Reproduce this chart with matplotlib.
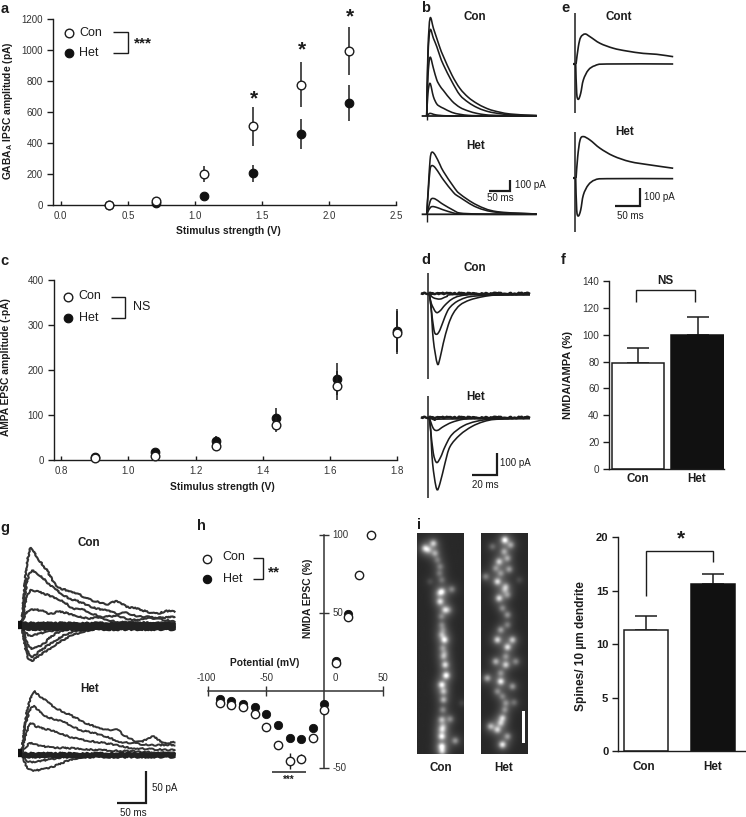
import numpy as np
import matplotlib
matplotlib.use("Agg")
import matplotlib.pyplot as plt
from matplotlib.path import Path
from matplotlib.patches import PathPatch

plt.rcParams['font.family'] = ['Liberation Sans', 'DejaVu Sans']
plt.rcParams['mathtext.fontset'] = 'custom'
plt.rcParams['mathtext.bf'] = 'Liberation Sans:bold'
plt.rcParams['mathtext.rm'] = 'Liberation Sans'

W, H = 746, 817
INK = '#1c1c1c'
TICK = '#333333'

# ---------- a: GABA-A IPSC ----------
a_x = [0.36, 0.71, 1.07, 1.43, 1.79, 2.15]
a_con = [0, 30, 200, 510, 775, 995]
a_con_err = [0, 15, 52, 125, 145, 155]
a_het = [2, 15, 60, 205, 460, 660]
a_het_err = [3, 8, 15, 55, 95, 115]
a_xticks = [0.0, 0.5, 1.0, 1.5, 2.0, 2.5]
a_yticks = [0, 200, 400, 600, 800, 1000, 1200]

# ---------- c: AMPA EPSC ----------
c_x = [0.9, 1.08, 1.26, 1.44, 1.62, 1.8]
c_con = [4, 10, 32, 79, 165, 283]
c_con_err = [1, 5, 8, 17, 32, 48]
c_het = [7, 19, 43, 94, 180, 287]
c_het_err = [3, 5, 10, 22, 35, 48]
c_xticks = [0.8, 1.0, 1.2, 1.4, 1.6, 1.8]
c_yticks = [0, 100, 200, 300, 400]

# ---------- f: NMDA/AMPA ----------
f_groups = ['Con', 'Het']
f_vals = [79, 100]
f_errs = [11.5, 13.5]
f_yticks = [0, 20, 40, 60, 80, 100, 120, 140]

# ---------- h: NMDA I-V ----------
h_x_con = [-90, -80, -70, -60, -50, -40, -30, -20, -10, 0, 10, 20, 30, 40]
h_con = [-7.7, -9, -10.9, -15.4, -23.5, -35.3, -45.2, -43.9, -30.8, -12.2, 18, 47.4, 74, 100]
h_con_err = [1, 1, 1, 1, 1, 2, 5, 3, 1, 1, 1, 1, 1, 1]
h_x_het = [-90, -80, -70, -60, -50, -40, -30, -20, -10, 0, 10, 20]
h_het = [-5.7, -6.8, -8.5, -10.5, -15.4, -22.2, -30.2, -31.4, -24.2, -8.5, 19.3, 49]

# ---------- i: spine density ----------
i_groups = ['Con', 'Het']
i_vals = [11.3, 15.6]
i_errs = [1.3, 1.0]
i_yticks = [0, 5, 10, 15, 20]

# ---------- b: IPSC traces (ms, pA) ----------
b_con_t = [0, 3, 8, 16, 24, 32, 40, 60, 79, 99, 119, 139, 159, 198, 262]
b_con_1 = [0, 619, 916, 822, 728, 634, 556, 384, 259, 175, 119, 78, 50, 19, 3]
b_con_2 = [0, 556, 806, 728, 650, 556, 478, 322, 197, 128, 81, 50, 31, 12, 3]
b_con_3 = [0, 369, 550, 447, 338, 279, 238, 141, 81, 47, 25, 12, 6, 3, 3]
b_con_4 = [0, 213, 306, 181, 113, 88, 72, 34, 16, 6, 3, 3, 3, 3, 3]
b_con_5 = [0, 12, 25, 16, 9, 6, 3, 0, 0, 0, 0, 0, 0, 0, 0]
b_het_t = [0, 4, 8, 12, 20, 32, 40, 64, 79, 119, 167, 262]
b_het_1 = [0, 259, 509, 581, 556, 462, 400, 259, 191, 88, 25, 3]
b_het_2 = [0, 228, 416, 456, 438, 369, 322, 203, 159, 66, 19, 3]
b_het_3 = [0, 56, 119, 147, 144, 112, 91, 37, 12, 3, 0, 0]
b_het_4 = [0, 34, 59, 72, 69, 53, 41, 12, 3, 0, 0, 0]
base_t = [-12, 262]
base_v = [0, 0]

# ---------- d: EPSC traces (ms, pA) ----------
d_con_t1 = [0, 1.4, 3.3, 6.6, 8.8, 11.5, 15.6, 19.7, 25.2, 33.4, 44.4, 55.3, 82.7]
d_con_1 = [0, -58, -207, -314, -289, -222, -140, -88, -51, -28, -13, -6, -4]
d_con_t2 = [0, 1.4, 3.8, 6, 8.8, 12.9, 17, 25.2, 38.9, 82.7]
d_con_2 = [0, -58, -162, -182, -162, -103, -61, -28, -10, -3]
d_con_t3 = [0, 1.6, 5.5, 8.8, 12.9, 18.4, 25.2, 38.9, 82.7]
d_con_3 = [0, -43, -83, -77, -51, -25, -10, -3, -4]
d_con_t4 = [0, 3.3, 8.8, 14.2, 22.5, 82.7]
d_con_4 = [0, -18, -24, -13, -3, -4]
d_het_t1 = [0, 1.1, 2.7, 6, 8.8, 12.9, 17, 25.2, 34.8, 44.4, 55.3, 82.7]
d_het_1 = [0, -55, -204, -319, -294, -204, -130, -77, -40, -18, -7, -3]
d_het_t2 = [0, 1.1, 3.3, 6, 9.3, 12.9, 18.4, 27.9, 38.9, 55.3, 82.7]
d_het_2 = [0, -55, -159, -201, -177, -130, -77, -37, -16, -4, -3]
d_het_t3 = [0, 3.3, 6.6, 11.5, 18.4, 27.9, 38.9, 82.7]
d_het_3 = [0, -48, -57, -40, -21, -7, -3, -3]
d_het_t4 = [0, 4.7, 11.5, 82.7]
d_het_4 = [0, -10, -6, -3]
d_base_t = [-7, 82.7]
d_base_v = [1, 1]

# ---------- e: +40 / -70 traces (ms, pA) ----------
e_con_up_t = [0.7, 5.3, 10, 18.7, 28.7, 48.7, 75.4, 102, 135, 162, 195]
e_con_up = [0, 95, 146, 164, 149, 113, 86, 71, 58, 53, 40]
e_dn_t = [0, 2, 5.3, 10, 15.3, 25.3, 38.7, 62, 195]
e_con_dn = [0, -160, -193, -160, -87, -33, -9, 0, 0]
e_het_up_t = [0.7, 4, 8.7, 15.3, 28.7, 48.7, 75.4, 108.7, 148.7, 195]
e_het_up = [0, 118, 209, 228, 209, 164, 122, 91, 73, 55]
e_het_dn = [0, -173, -206, -173, -91, -36, -9, -2, -2]

# ---------- g: NMDA traces (ms, pA) ----------
g_con_t1 = [0, 7.5, 14.4, 20, 32, 43, 55, 66, 78, 95, 112, 129, 147, 164, 181, 198, 216, 233, 250, 265]
g_con_u1 = [0, 87, 119, 116, 100, 87, 68, 58, 55, 50, 42, 37, 33, 37, 29, 26, 21, 18, 22, 21]
g_con_t2 = [0, 8.6, 17, 26, 37, 49, 60, 78, 95, 112, 129, 147, 164, 181, 198, 216, 233, 265]
g_con_u2 = [0, 66, 85, 82, 74, 63, 55, 44, 38, 32, 26, 24, 18, 19, 14, 13, 11, 13]
g_con_t3 = [0, 5.8, 14.4, 26, 37, 55, 72, 89, 106, 124, 141, 164, 193, 221, 265]
g_con_u3 = [0, 34, 54, 53, 50, 44, 37, 26, 24, 17, 13, 14, 8, 11, 5]
g_con_t4 = [0, 5.8, 14.4, 32, 49, 66, 89, 112, 135, 164, 193, 265]
g_con_u4 = [0, 16, 24, 23, 18, 21, 16, 11, 11, 5, 4, 3]
g_con_t5 = [0, 8.6, 17, 32, 49, 66, 89, 112, 147, 204, 265]
g_con_d1 = [0, -45, -56, -47, -37, -26, -16, -9, -4, -3, -3]
g_con_t6 = [0, 8.6, 17, 34.5, 55, 78, 106, 147, 265]
g_con_d2 = [0, -37, -50, -39, -26, -14, -8, -3, -2]
g_con_t7 = [0, 8.6, 17, 37, 60, 106, 265]
g_con_d3 = [0, -26, -37, -30, -13, -4, -3]
g_con_t8 = [0, 11.5, 32, 60, 106, 265]
g_con_d4 = [0, -16, -13, -8, -4, -3]
g_con_band = [3, 1, -1, -3, -5, -7]
g_het_t1 = [0, 7.5, 19, 29, 43, 60, 78, 95, 112, 129, 147, 164, 181, 204, 227, 244, 265]
g_het_u1 = [0, 58, 96, 92, 82, 71, 63, 55, 47, 42, 37, 37, 26, 18, 26, 16, 18]
g_het_t2 = [0, 5.8, 17, 29, 43, 60, 78, 101, 124, 147, 170, 193, 221, 265]
g_het_u2 = [0, 42, 73, 68, 58, 53, 47, 37, 32, 26, 18, 16, 13, 13]
g_het_t3 = [0, 5.8, 15.5, 26, 43, 60, 83, 106, 129, 164, 193, 265]
g_het_u3 = [0, 26, 47, 42, 38, 34, 26, 21, 18, 13, 8, 5]
g_het_t4 = [0, 5.8, 15.5, 32, 55, 89, 135, 193, 265]
g_het_u4 = [0, 8, 16, 12, 9, 8, 5, 3, 0]
g_het_t5 = [0, 8.6, 20, 37, 57, 83, 112, 147, 265]
g_het_d1 = [0, -21, -27, -25, -20, -10.5, -5, -2, -1]
g_het_t6 = [0, 11.5, 32, 60, 95, 265]
g_het_d2 = [0, -13, -12, -8, -4, -2]
g_het_band = [0, -2, -4, -6]

# ---------- i: micrograph bright spots (image x, image y, brightness) ----------
dend_con_x = [75, 100, 105, 120, 125, 125, 155, 120, 135, 125, 133, 125, 130, 135, 138, 125, 130, 125, 150, 125, 125, 165, 90, 185, 85, 112, 118, 124, 128, 128, 130, 128, 128, 126, 126, 133, 118, 145]
dend_con_y = [115, 100, 130, 170, 210, 245, 238, 275, 300, 345, 390, 375, 440, 465, 497, 525, 570, 630, 628, 680, 710, 693, 215, 580, 120, 150, 190, 320, 360, 415, 545, 600, 650, 660, 725, 430, 250, 300]
dend_con_b = [.7, .7, .5, .35, .3, .8, .4, .8, .7, .35, .9, .5, .5, .8, 1.0, .9, .6, .6, .4, .9, .9, .5, .15, .12, .5, .3, .3, .35, .3, .4, .6, .4, .4, .6, .7, .3, .4, .3]
dend_het_x = [312, 330, 275, 295, 320, 285, 325, 255, 290, 315, 355, 295, 320, 320, 300, 290, 335, 320, 285, 315, 345, 260, 300, 335, 290, 315, 340, 305, 270, 290, 320, 305, 300, 310, 305, 315, 312, 300, 312, 320, 300, 305]
dend_het_y = [90, 105, 110, 155, 145, 175, 178, 200, 215, 230, 210, 265, 255, 315, 360, 390, 390, 412, 455, 465, 455, 505, 515, 530, 545, 580, 578, 625, 650, 660, 680, 705, 640, 125, 295, 440, 600, 190, 240, 345, 490, 560]
dend_het_b = [1.0, .5, .3, .7, .5, .4, .5, .4, .8, .5, .15, .8, .4, .45, .5, .8, .7, .8, .6, .7, .4, .6, .9, .5, .4, .4, .3, .7, .6, .7, .5, .9, .6, .5, .4, .4, .4, .4, .4, .35, .4, .35]

# ---------- helpers ----------
fig = plt.figure(figsize=(W / 100, H / 100), dpi=100, facecolor='white')


def ax_px(l, t, r, b, **kw):
    return fig.add_axes([l / W, 1 - b / H, (r - l) / W, (b - t) / H], **kw)


def style_xy(ax, xt, yt, xfmt):
    for s in ('top', 'right'):
        ax.spines[s].set_visible(False)
    for s in ('left', 'bottom'):
        ax.spines[s].set_linewidth(1.0)
        ax.spines[s].set_color(INK)
    ax.set_xticks(xt)
    ax.set_xticklabels([xfmt % v for v in xt])
    ax.set_yticks(yt)
    ax.tick_params(axis='x', direction='in', length=3.2, width=1.0, pad=4, labelsize=7, labelcolor=TICK, color=INK)
    ax.tick_params(axis='y', direction='out', length=4, width=1.0, pad=3.5, labelsize=7, labelcolor=TICK, color=INK)
    ax.patch.set_alpha(0)


def scatter_panel(ax, x, con, con_e, het, het_e):
    ax.errorbar(x, het, yerr=het_e, fmt='o', ms=6.2, mfc='#111111', mec='#111111', mew=0.8,
                ecolor=INK, elinewidth=1.1, clip_on=False, zorder=3)
    ax.errorbar(x, con, yerr=con_e, fmt='o', ms=6.2, mfc='white', mec=INK, mew=1.0,
                ecolor=INK, elinewidth=1.1, clip_on=False, zorder=4)
    for art in ax.get_children():
        art.set_clip_on(False)


def trace_ax(x0, y0, sx, sy, l, t, r, b):
    ax = ax_px(l, t, r, b)
    ax.set_xlim((l - x0) / sx, (r - x0) / sx)
    ax.set_ylim((y0 - b) / sy, (y0 - t) / sy)
    ax.axis('off')
    return ax


def tr(ax, t, v, lw=1.1, c=INK, noisy=False):
    # smooth curve through every read sample (Bezier segments in data space)
    p = np.column_stack([t, v]).astype(float)
    verts = [p[0]]
    codes = [Path.MOVETO]
    n = len(p)
    for i in range(n - 1):
        a = p[max(i - 1, 0)]
        d = p[min(i + 2, n - 1)]
        verts += [p[i] + (p[i + 1] - a) / 6, p[i + 1] - (d - p[i]) / 6, p[i + 1]]
        codes += [Path.CURVE4] * 3
    patch = PathPatch(Path(verts, codes), fill=False, edgecolor=c, lw=lw, clip_on=False,
                      capstyle='butt', joinstyle='round')
    if noisy:
        patch.set_sketch_params(0.7, 5, 5)
    ax.add_patch(patch)
    return patch


# ---------- panel a ----------
axa = ax_px(53.3, 19, 396.3, 205.3)
axa.set_xlim((53.3 - 60.7) / 134.2, 2.5)
axa.set_ylim(0, 1200)
style_xy(axa, a_xticks, a_yticks, '%.1f')
scatter_panel(axa, a_x, a_con, a_con_err, a_het, a_het_err)

# ---------- panel c ----------
axc = ax_px(54, 279.7, 397.3, 460.3)
axc.set_xlim(0.8 + (54 - 61) / 336.3, 1.8)
axc.set_ylim(0, 400)
style_xy(axc, c_xticks, c_yticks, '%.1f')
scatter_panel(axc, c_x, c_con, c_con_err, c_het, c_het_err)


# ---------- bar panels ----------
def bar_panel(ax, vals, errs, yt, width, cap, bold=False):
    ax.bar([0], [vals[0]], width=width, color='white', edgecolor=INK, linewidth=1.1, zorder=2)
    ax.bar([1], [vals[1]], width=width, color='#111111', edgecolor='#111111', linewidth=1.1, zorder=2)
    ax.errorbar([0, 1], vals, yerr=[[0, 0], errs], fmt='none', ecolor=INK, elinewidth=1.1,
                capsize=cap, capthick=1.1, zorder=1)
    for s in ('top', 'right'):
        ax.spines[s].set_visible(False)
    for s in ('left', 'bottom'):
        ax.spines[s].set_linewidth(1.0)
        ax.spines[s].set_color(INK)
    ax.set_xticks([])
    ax.set_yticks(yt)
    ax.tick_params(axis='y', direction='out', length=4, width=1.0, pad=3,
                   labelsize=8 if bold else 7.2, labelcolor=INK if bold else TICK, color=INK)
    if bold:
        for lb in ax.get_yticklabels():
            lb.set_fontweight('bold')
    ax.patch.set_alpha(0)


axf = ax_px(609, 281.3, 724.3, 468.7)
axf.set_xlim(-0.487, 1.45)
axf.set_ylim(0, 140)
bar_panel(axf, f_vals, f_errs, f_yticks, 0.884, 7.8)

axi = ax_px(618, 537.3, 745.7, 751.3)
axi.set_xlim((618 - 646) / 67, 1 + (745.7 - 713) / 67)
axi.set_ylim(0, 20)
bar_panel(axi, i_vals, i_errs, i_yticks, 0.67, 7.8, bold=True)

# ---------- panel h ----------
axh = ax_px(208, 535, 382.7, 768.3)
axh.set_xlim(-100, 50)
axh.set_ylim(-50, 100)
for s in ('top', 'right'):
    axh.spines[s].set_visible(False)
axh.spines['left'].set_position(('data', 0))
axh.spines['bottom'].set_position(('data', 0))
axh.spines['left'].set_color('#333333')
axh.spines['bottom'].set_color('#333333')
axh.spines['left'].set_linewidth(1.1)
axh.spines['bottom'].set_linewidth(1.1)
axh.set_xticks([-100, -50, 50])
axh.set_yticks([-50, 50, 100])
axh.tick_params(axis='both', direction='inout', length=7, width=1.0, color='#333333',
                labelbottom=False, labelleft=False)
axh.patch.set_alpha(0)
axh.plot(h_x_het, h_het, 'o', ms=6, mfc='#111111', mec='#111111', mew=0.6, clip_on=False, zorder=3)
axh.errorbar(h_x_con, h_con, yerr=h_con_err, fmt='o', ms=6, mfc='white', mec=INK, mew=1.0,
             ecolor=INK, elinewidth=1.0, zorder=4)
for art in axh.get_children():
    art.set_clip_on(False)

# ---------- traces b ----------
ax = trace_ax(426.7, 116, 0.42, 0.1067, 415, 10, 540, 122)
for v in (b_con_1, b_con_2, b_con_3, b_con_4, b_con_5):
    tr(ax, b_con_t, v, lw=1.15)
tr(ax, base_t, base_v, lw=1.3)
ax = trace_ax(426.7, 214.3, 0.42, 0.1067, 415, 145, 540, 222)
for v in (b_het_1, b_het_2, b_het_3, b_het_4):
    tr(ax, b_het_t, v, lw=1.15)
tr(ax, base_t, base_v, lw=1.3)

# ---------- traces d ----------
ax = trace_ax(429.3, 293.7, 1.217, 0.223, 420, 272, 535, 380)
for t, v in ((d_con_t1, d_con_1), (d_con_t2, d_con_2), (d_con_t3, d_con_3), (d_con_t4, d_con_4)):
    tr(ax, t, v, lw=1.15)
tr(ax, d_base_t, d_base_v, lw=1.8, noisy=True)
ax = trace_ax(429.3, 417.7, 1.217, 0.223, 420, 396, 535, 500)
for t, v in ((d_het_t1, d_het_1), (d_het_t2, d_het_2), (d_het_t3, d_het_3), (d_het_t4, d_het_4)):
    tr(ax, t, v, lw=1.15)
tr(ax, d_base_t, d_base_v, lw=1.8, noisy=True)

# ---------- traces e ----------
ax = trace_ax(575.7, 64, 0.5, 0.183, 570, 10, 680, 115)
tr(ax, e_con_up_t, e_con_up, lw=1.2)
tr(ax, e_dn_t, e_con_dn, lw=1.2)
ax = trace_ax(575.7, 178.3, 0.5, 0.183, 570, 130, 680, 235)
tr(ax, e_het_up_t, e_het_up, lw=1.2)
tr(ax, e_dn_t, e_het_dn, lw=1.2)

# ---------- traces g ----------
GR = '#333333'
ax = trace_ax(21.7, 625, 0.58, 0.633, 14, 540, 176, 665)
for t, v in ((g_con_t1, g_con_u1), (g_con_t2, g_con_u2), (g_con_t3, g_con_u3), (g_con_t4, g_con_u4),
             (g_con_t5, g_con_d1), (g_con_t6, g_con_d2), (g_con_t7, g_con_d3), (g_con_t8, g_con_d4)):
    tr(ax, t, v, lw=1.5, c=GR, noisy=True)
for lvl in g_con_band:
    tr(ax, [0, 132, 265], [lvl, lvl, lvl], lw=1.7, c='#222222', noisy=True)
ax.plot([-6, 0], [0, 0], color='#111111', lw=6, solid_capstyle='butt', clip_on=False)

ax = trace_ax(21.7, 753.3, 0.58, 0.633, 14, 688, 176, 775)
for t, v in ((g_het_t1, g_het_u1), (g_het_t2, g_het_u2), (g_het_t3, g_het_u3), (g_het_t4, g_het_u4),
             (g_het_t5, g_het_d1), (g_het_t6, g_het_d2)):
    tr(ax, t, v, lw=1.4, c=GR, noisy=True)
for lvl in g_het_band:
    tr(ax, [0, 132, 265], [lvl, lvl, lvl], lw=1.5, c='#222222', noisy=True)
ax.plot([-6, 0], [0, 0], color='#111111', lw=6, solid_capstyle='butt', clip_on=False)


# ---------- micrographs ----------
def micro(l, r, xs, ys, bs, x0, x1):
    ax = ax_px(l, 533.3, r, 754.3)
    gx, gy = np.meshgrid(np.arange(x0, x1, 2.0), np.arange(70, 733, 2.0))
    img = np.full(gx.shape, 0.16)
    for x, y, b in zip(xs, ys, bs):
        d2 = (gx - x) ** 2 + (gy - y) ** 2
        img += b * 0.6 * np.exp(-d2 / (2 * 7.0 ** 2)) + b * 0.22 * np.exp(-d2 / (2 * 16.0 ** 2))
    ax.imshow(np.clip(img, 0, 1), cmap='gray', vmin=0, vmax=1, aspect='auto',
              extent=(x0, x1, 733, 70), interpolation='bilinear')
    ax.axis('off')


micro(417.3, 464, dend_con_x, dend_con_y, dend_con_b, 52, 192)
micro(480.7, 527, dend_het_x, dend_het_y, dend_het_b, 242, 381)

# ---------- overlay: annotation layer in pixel coordinates ----------
ov = fig.add_axes([0, 0, 1, 1], zorder=20)
ov.set_xlim(0, W)
ov.set_ylim(H, 0)
ov.axis('off')
ov.patch.set_alpha(0)


def T(x, y, s, size=7, weight='normal', ha='center', va='center', c=INK, rot=0):
    ov.text(x, y, s, fontsize=size, fontweight=weight, ha=ha, va=va, color=c, rotation=rot)


def L(xs, ys, lw=1.0, c=INK):
    ov.plot(xs, ys, color=c, lw=lw, solid_capstyle='butt', solid_joinstyle='miter')


# panel letters
for x, y, s in ((1, 9, 'a'), (421, 8, 'b'), (561, 8, 'e'), (0, 261, 'c'), (421, 260, 'd'),
                (561, 260, 'f'), (0, 528, 'g'), (197, 526, 'h'), (417, 525, 'i')):
    T(x, y, s, size=10.5, weight='bold', ha='left')

# axis labels
T(8, 111, 'GABA$_{\\mathbf{A}}$ IPSC amplitude (pA)', size=7.4, weight='bold', rot=90)
T(228.7, 231, 'Stimulus strength (V)', size=7.4, weight='bold')
T(6, 367, 'AMPA EPSC amplitude (-pA)', size=7.4, weight='bold', rot=90)
T(222.7, 487, 'Stimulus strength (V)', size=7.4, weight='bold')
T(568, 375, 'NMDA/AMPA (%)', size=8, weight='bold', rot=90)
T(581, 646, 'Spines/ 10 µm dendrite', size=8.6, weight='bold', rot=90)
T(638, 478.7, 'Con', size=8.4, weight='bold')
T(697, 478.7, 'Het', size=8.4, weight='bold')
T(643.5, 767.3, 'Con', size=8.4, weight='bold')
T(713, 767.3, 'Het', size=8.4, weight='bold')

# panel a legend
ov.plot([69], [32.7], 'o', ms=6.2, mfc='white', mec=INK, mew=1)
ov.plot([69], [52.7], 'o', ms=6.2, mfc='#111111', mec='#111111', mew=0.8)
T(79.5, 32.5, 'Con', size=9, ha='left')
T(79.5, 52.7, 'Het', size=9, ha='left')
L([112.7, 128, 128, 112.7], [32, 32, 53.3, 53.3])
T(143, 43, '***', size=11, weight='bold')
T(253.7, 99, '*', size=15, weight='bold')
T(302, 50, '*', size=15, weight='bold')
T(350.3, 17, '*', size=15, weight='bold')

# panel c legend
ov.plot([67.7], [297.3], 'o', ms=6.2, mfc='white', mec=INK, mew=1)
ov.plot([67.7], [317.7], 'o', ms=6.2, mfc='#111111', mec='#111111', mew=0.8)
T(78.7, 296, 'Con', size=9, ha='left')
T(79.3, 318, 'Het', size=9, ha='left')
L([110.7, 125.3, 125.3, 110.7], [296.7, 296.7, 318.3, 318.3])
T(132.7, 307.3, 'NS', size=9, ha='left')

# panel f bracket
L([636, 636, 694.7, 694.7], [302.3, 290, 290, 302.3])
T(665, 280.7, 'NS', size=8.4, weight='bold')

# panel i bracket
L([646, 646, 713, 713], [595.7, 551.3, 551.3, 562.3])
T(681, 539, '*', size=15, weight='bold')

# panel h labels
for x, y, s in ((206.7, 678, '-100'), (266.7, 678, '-50'), (335, 678, '0'), (382.7, 678, '50'),
                (340, 535, '100'), (338, 613, '50'), (340, 768, '-50')):
    T(x, y, s, size=7, c=TICK)
T(265, 662.7, 'Potential (mV)', size=7.4, weight='bold')
T(308, 598, 'NMDA EPSC (%)', size=7.4, weight='bold', rot=90)
ov.plot([207.3], [558.7], 'o', ms=6, mfc='white', mec=INK, mew=1)
ov.plot([207.3], [579], 'o', ms=6, mfc='#111111', mec='#111111', mew=0.8)
T(222.7, 557, 'Con', size=9, ha='left')
T(222.7, 579, 'Het', size=9, ha='left')
L([253.3, 263, 263, 253.3], [558.3, 558.3, 579, 579])
T(274, 572, '**', size=11, weight='bold')
L([272.3, 305.7], [771.7, 771.7], lw=1.2, c='#333333')
T(289, 780, '***', size=7, weight='bold')

# trace titles
for x, y, s in ((475, 17, 'Con'), (475.7, 146, 'Het'), (619, 17, 'Cont'), (625, 132, 'Het'),
                (475, 268, 'Con'), (475.7, 397, 'Het'), (89, 543, 'Con'), (90, 689, 'Het'),
                (441, 768, 'Con'), (504, 768, 'Het')):
    T(x, y, s, size=8.4, weight='bold')

# stimulus artefacts
L([426.7, 426.7], [113, 120], lw=1)
L([426.7, 426.7], [211, 222], lw=1)
L([427.7, 427.7], [272.7, 379.3], lw=1.1)
L([427.7, 427.7], [396, 498.3], lw=1.1)
L([575, 575], [13.3, 113.3], lw=1.1)
L([575, 575], [131.7, 232.3], lw=1.1)
L([572.5, 575], [64, 64], lw=1.6)
L([572.5, 575], [178, 178], lw=1.6)

# scale bars
L([489, 510, 510], [190.7, 190.7, 180], lw=1.6)
T(514.7, 185.3, '100 pA', size=7, ha='left')
T(500, 198.3, '50 ms', size=7)
L([615, 640, 640], [206, 206, 188.3], lw=1.6)
T(644, 197, '100 pA', size=7, ha='left')
T(630, 215.7, '50 ms', size=7)
L([472.3, 496.7, 496.7], [475, 475, 453.3], lw=1.6)
T(500, 463.3, '100 pA', size=7, ha='left')
T(485, 484.7, '20 ms', size=7)
L([117, 146, 146], [802.7, 802.7, 771], lw=1.6)
T(151.7, 788.3, '50 pA', size=7, ha='left')
T(133.3, 813.3, '50 ms', size=7)

# micrograph scale bar
ov.add_patch(plt.Rectangle((522.3, 710.7), 2.7, 32.7, color='white', lw=0))

fig.savefig('out.png', dpi=100)
